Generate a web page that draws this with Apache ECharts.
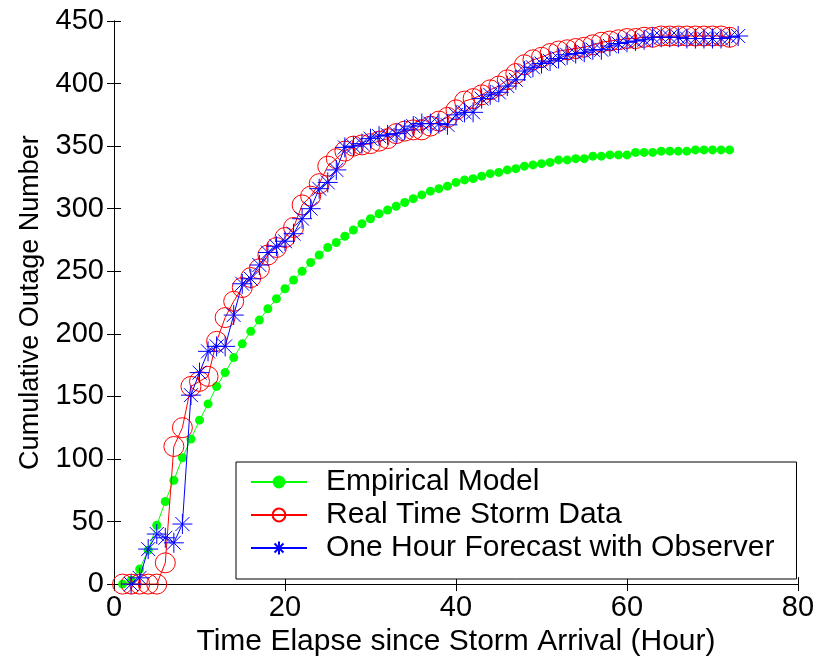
<!DOCTYPE html>
<html>
<head>
<meta charset="utf-8">
<script src="https://cdn.jsdelivr.net/npm/echarts@6/dist/echarts.min.js"></script>
<style>html,body{margin:0;padding:0;background:#fff;}#c{width:820px;height:662px;}</style>
</head>
<body>
<div id="c"></div>
<script>
// ---- data ----
const seriesNames = ['Empirical Model', 'Real Time Storm Data', 'One Hour Forecast with Observer'];
const xTicks = [0, 20, 40, 60, 80];
const yTicks = [0, 50, 100, 150, 200, 250, 300, 350, 400, 450];

// Empirical model, hours 1..72
const empiricalStartHour = 1;
const empirical = [0,3,12,27,47,66,83,101,116,131,144,158,169,181,192,202,211,220,228,236,
  243,250,257,263,269,273,278,283,288,292,296,299,302,305,308,311,314,316,318,321,
  323,324,326,328,329,331,332,334,335,336,337,339,339,340,340,342,342,343,343,343,
  345,345,345,346,346,346,346,347,347,347,347,347];

// Real time storm data, hours 1..72
const realStartHour = 1;
const realTime = [0,0,0,0,0,17,110,125,158,162,166,194,213,226,237,245,252,263,269,277,
  285,303,310,320,334,340,346,350,351,352,354,356,360,362,363,363,366,370,373,379,
  386,388,391,395,398,403,408,415,419,421,424,426,427,428,429,431,433,434,435,436,
  436,437,437,438,438,438,438,438,438,438,438,437];

// One hour forecast with observer, hours 2..73
const forecastStartHour = 2;
const forecast = [0,5,28,40,37,33,48,151,169,186,190,190,215,240,244,255,265,270,274,
  280,292,300,316,321,331,349,350,352,356,358,359,360,363,366,368,368,368,367,375,
  377,377,388,391,393,398,403,410,413,416,418,420,423,424,425,427,427,430,432,433,
  434,435,437,437,437,437,436,436,436,436,436,437,438];

// ---- chart ----
const FONT = '"Liberation Sans", Arial, Helvetica, sans-serif';
const toPairs = (arr, start) => arr.map((v, i) => [start + i, v]);
const starPath = 'path://M0,10 L20,10 M10,0 L10,20 M3,3 L17,17 M17,3 L3,17';

const chart = echarts.init(document.getElementById('c'), null, {renderer: 'canvas'});
const axisCommon = {
  axisLine: {show: true, lineStyle: {color: '#000', width: 1}},
  axisTick: {show: true, inside: true, length: 7, lineStyle: {color: '#000'}},
  splitLine: {show: false}
};
chart.setOption({
  backgroundColor: '#fff',
  animation: false,
  grid: {left: 114, right: 22, top: 21, bottom: 75, containLabel: false},
  xAxis: [
    Object.assign({
      type: 'value', min: xTicks[0], max: xTicks[xTicks.length - 1], interval: xTicks[1] - xTicks[0],
      position: 'bottom',
      name: 'Time Elapse since Storm Arrival (Hour)', nameLocation: 'middle', nameGap: 37,
      nameTextStyle: {color: '#000', fontSize: 30, fontFamily: FONT},
      axisLabel: {color: '#000', fontSize: 29, fontFamily: FONT, margin: 9}
    }, axisCommon),
    Object.assign({
      type: 'value', min: xTicks[0], max: xTicks[xTicks.length - 1], interval: xTicks[1] - xTicks[0],
      position: 'top', axisLabel: {show: false}
    }, axisCommon)
  ],
  yAxis: [
    Object.assign({
      type: 'value', min: yTicks[0], max: yTicks[yTicks.length - 1], interval: yTicks[1] - yTicks[0],
      position: 'left',
      name: 'Cumulative Outage Number', nameLocation: 'middle', nameGap: 70,
      nameTextStyle: {color: '#000', fontSize: 27, fontFamily: FONT},
      axisLabel: {color: '#000', fontSize: 29, fontFamily: FONT, margin: 10}
    }, axisCommon),
    Object.assign({
      type: 'value', min: yTicks[0], max: yTicks[yTicks.length - 1], interval: yTicks[1] - yTicks[0],
      position: 'right', axisLabel: {show: false}
    }, axisCommon)
  ],
  legend: {
    orient: 'vertical', left: 236, top: 462,
    itemWidth: 56, itemHeight: 16, itemGap: 3,
    backgroundColor: '#fff', borderColor: '#000', borderWidth: 1,
    padding: [5, 22, 16, 14],
    textStyle: {color: '#000', fontSize: 30, fontFamily: FONT, padding: [0, 0, 0, 14]},
    data: seriesNames
  },
  series: [
    {
      name: seriesNames[0], type: 'line', data: toPairs(empirical, empiricalStartHour),
      symbol: 'circle', symbolSize: 9, showAllSymbol: true,
      lineStyle: {color: '#00ff00', width: 1},
      itemStyle: {color: '#00ff00', borderWidth: 0},
      z: 2
    },
    {
      name: seriesNames[1], type: 'line', data: toPairs(realTime, realStartHour),
      symbol: 'circle', symbolSize: 20, showAllSymbol: true,
      lineStyle: {color: '#ff0000', width: 1},
      itemStyle: {color: 'rgba(255,255,255,0)', borderColor: '#ff0000', borderWidth: 1},
      z: 3
    },
    {
      name: seriesNames[2], type: 'line', data: toPairs(forecast, forecastStartHour),
      symbol: starPath, symbolSize: 20, showAllSymbol: true,
      lineStyle: {color: '#0000ff', width: 1},
      itemStyle: {color: 'rgba(0,0,0,0)', borderColor: '#0000ff', borderWidth: 1},
      z: 4
    }
  ]
});
</script>
</body>
</html>
